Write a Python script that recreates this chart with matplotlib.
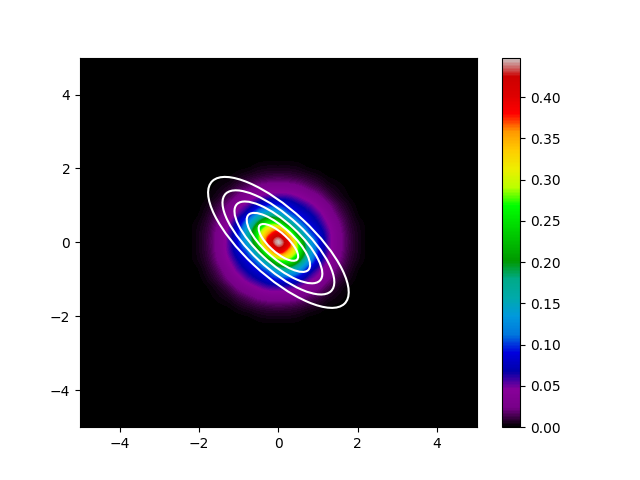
import numpy as np
import matplotlib
matplotlib.use("Agg")
import matplotlib.pyplot as plt
from matplotlib.patches import Ellipse

# Density on a 0.25 grid, |x| by |y|.
same_sign_quadrant = [
    [.445, .395, .265, .155, .095, .055, .030, .014, .005, .001],
    [.395, .315, .190, .115, .083, .053, .029, .013, .005, .001],
    [.265, .190, .125, .090, .068, .045, .025, .011, .004, .001],
    [.155, .115, .090, .072, .055, .034, .018, .008, .002, .000],
    [.095, .083, .068, .055, .039, .024, .012, .005, .001, .000],
    [.055, .053, .045, .034, .024, .013, .006, .002, .000, .000],
    [.030, .029, .025, .018, .012, .006, .003, .001, .000, .000],
    [.014, .013, .011, .008, .005, .002, .001, .000, .000, .000],
    [.005, .005, .004, .002, .001, .000, .000, .000, .000, .000],
    [.001, .001, .001, .000, .000, .000, .000, .000, .000, .000],
]
opposite_sign_quadrant = [
    [.445, .395, .265, .155, .095, .055, .030, .014, .005, .001],
    [.395, .352, .270, .165, .095, .053, .029, .013, .005, .001],
    [.265, .270, .210, .135, .080, .045, .025, .011, .004, .001],
    [.155, .165, .135, .085, .055, .034, .018, .008, .002, .000],
    [.095, .095, .080, .055, .039, .024, .012, .005, .001, .000],
    [.055, .053, .045, .034, .024, .013, .006, .002, .000, .000],
    [.030, .029, .025, .018, .012, .006, .003, .001, .000, .000],
    [.014, .013, .011, .008, .005, .002, .001, .000, .000, .000],
    [.005, .005, .004, .002, .001, .000, .000, .000, .000, .000],
    [.001, .001, .001, .000, .000, .000, .000, .000, .000, .000],
]
grid_step = 0.25
contour_semi_major = [2.35, 1.87, 1.47, 1.06, 0.66]
contour_semi_minor = [0.87, 0.69, 0.54, 0.39, 0.245]
color_max = 0.448
x_ticks = [-4, -2, 0, 2, 4]
y_ticks = [-4, -2, 0, 2, 4]
cbar_ticks = [0.00, 0.05, 0.10, 0.15, 0.20, 0.25, 0.30, 0.35, 0.40]

same = np.array(same_sign_quadrant)
opp = np.array(opposite_sign_quadrant)
n = same.shape[0]
field = np.zeros((2 * n - 1, 2 * n - 1))
for iy in range(-n + 1, n):
    for ix in range(-n + 1, n):
        table = same if ix * iy >= 0 else opp
        field[iy + n - 1, ix + n - 1] = table[abs(iy), abs(ix)]
edge = (n - 0.5) * grid_step

fig, ax = plt.subplots(figsize=(6.4, 4.8), dpi=100)
ax.set_facecolor("black")
im = ax.imshow(field, origin="lower", extent=[-edge, edge, -edge, edge],
               cmap="nipy_spectral", vmin=0, vmax=color_max,
               interpolation="catrom", aspect="auto")
for a, b in zip(contour_semi_major, contour_semi_minor):
    ax.add_patch(Ellipse((0, 0), 2 * a, 2 * b, angle=-45, fill=False,
                         edgecolor="white", linewidth=1.5))
ax.set_xlim(-5, 5)
ax.set_ylim(-5, 5)
ax.set_xticks(x_ticks)
ax.set_yticks(y_ticks)
cb = fig.colorbar(im, ax=ax)
cb.set_ticks(cbar_ticks)
cb.ax.set_yticklabels([f"{t:.2f}" for t in cbar_ticks])
fig.savefig("out.png", dpi=100)
